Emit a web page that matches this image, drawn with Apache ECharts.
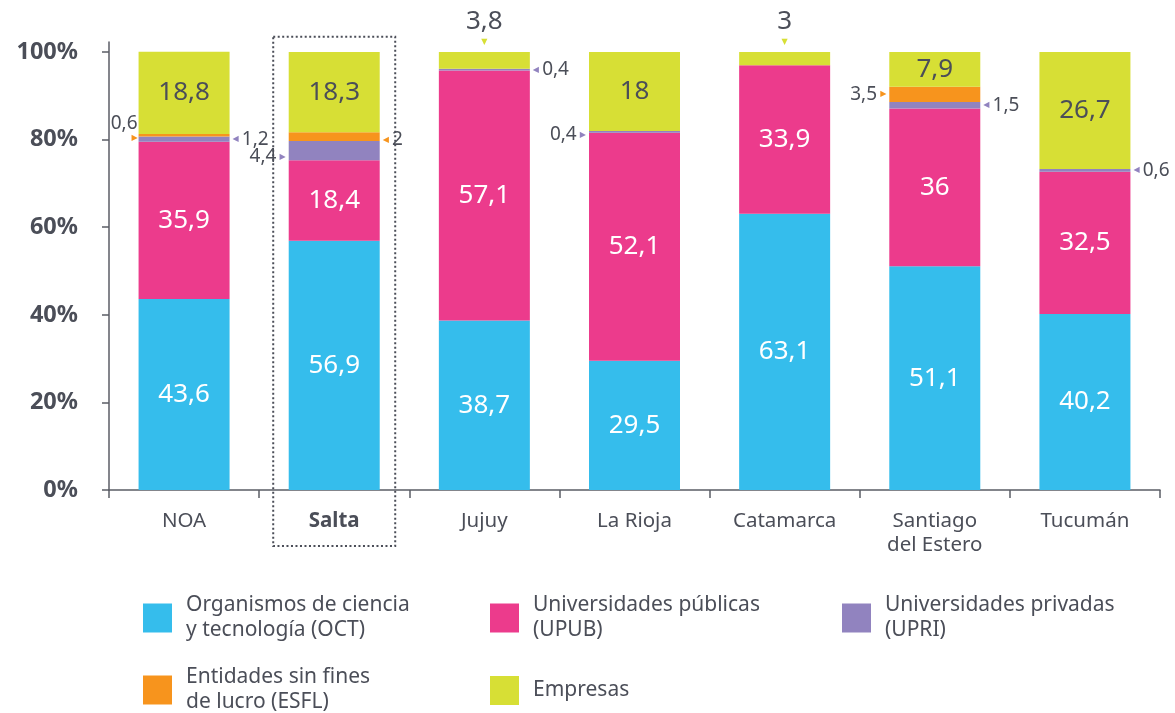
<!DOCTYPE html>
<html>
<head>
<meta charset="utf-8">
<script src="https://cdn.jsdelivr.net/npm/echarts@6/dist/echarts.min.js"></script>
<style>
html,body{margin:0;padding:0;background:#fff;}
#chart{width:1175px;height:713px;}
</style>
</head>
<body>
<div id="chart"></div>
<script>
// ---- data ----
const categories = ['NOA', 'Salta', 'Jujuy', 'La Rioja', 'Catamarca', 'Santiago\ndel Estero', 'Tucumán'];
const oct      = [43.6, 56.9, 38.7, 29.5, 63.1, 51.1, 40.2];
const upub     = [35.9, 18.4, 57.1, 52.1, 33.9, 36.0, 32.5];
const upri     = [1.2, 4.4, 0.4, 0.4, 0, 1.5, 0.6];
const esfl     = [0.6, 2.0, 0, 0, 0, 3.5, 0];
const empresas = [18.8, 18.3, 3.8, 18.0, 3.0, 7.9, 26.7];
const yTicks   = [0, 20, 40, 60, 80, 100];
const seriesNames = [
  'Organismos de ciencia\ny tecnología (OCT)',
  'Universidades públicas\n(UPUB)',
  'Universidades privadas\n(UPRI)',
  'Entidades sin fines\nde lucro (ESFL)',
  'Empresas'
];

// ---- styles ----
const colors = ['#35bdec', '#ec3b8c', '#9183bf', '#f7941d', '#d7df35'];
const textColor = '#4b4e58';
const axisColor = '#5b5d66';
const font = 'Noto Sans';

// placement of labels drawn outside the bar, per series index -> {categoryIndex: mode}
const outsidePlacement = {
  2: {0: 'right', 1: 'left', 2: 'right', 3: 'left', 5: 'right', 6: 'right'},
  3: {0: 'leftAbove', 1: 'right', 5: 'left'},
  4: {2: 'top', 4: 'top'}
};
const outsideOffset = {
  '2-1': [0, 6], '3-1': [0, 3], '2-3': [0, 3]
};

function fmt(v) { return String(v).replace('.', ','); }

function buildData(values, sIdx, insideColor) {
  return values.map((v, i) => {
    if (!v) return {value: v, label: {show: false}};
    const mode = (outsidePlacement[sIdx] || {})[i];
    const c = colors[sIdx];
    const rich = {
      v: {fontSize: 19, color: textColor, fontFamily: font},
      t: {fontSize: 8, color: c, fontFamily: 'DejaVu Sans'}
    };
    const off = outsideOffset[sIdx + '-' + i] || [0, 0];
    if (mode === 'right') {
      return {value: v, label: {show: true, position: 'right', distance: 3, offset: off,
        formatter: '{t|◀} {v|' + fmt(v) + '}', rich}};
    }
    if (mode === 'left') {
      return {value: v, label: {show: true, position: 'left', distance: 3, offset: off,
        formatter: '{v|' + fmt(v) + '} {t|▶}', rich}};
    }
    if (mode === 'leftAbove') {
      rich.v.lineHeight = 20; rich.t.lineHeight = 10;
      return {value: v, label: {show: true, position: 'left', distance: 1, offset: [0, -7],
        formatter: '{v|' + fmt(v) + '}\n{t|▶}', rich}};
    }
    if (mode === 'top') {
      rich.v.fontSize = 26; rich.v.lineHeight = 28; rich.t.lineHeight = 12;
      return {value: v, label: {show: true, position: 'top', distance: 4, align: 'center',
        formatter: '{v|' + fmt(v) + '}\n{t|▼}', rich}};
    }
    return {value: v, label: {show: true, position: 'inside', color: insideColor,
      fontSize: 26, fontFamily: font, formatter: fmt(v)}};
  });
}

const allValues = [oct, upub, upri, esfl, empresas];
const insideColors = ['#ffffff', '#ffffff', '#ffffff', '#ffffff', textColor];

const series = allValues.map((vals, s) => ({
  name: seriesNames[s],
  type: 'bar',
  stack: 'total',
  barWidth: 91,
  itemStyle: {color: colors[s]},
  emphasis: {disabled: true},
  data: buildData(vals, s, insideColors[s])
}));

const legendPos = [
  {left: 143, top: 593},
  {left: 490, top: 593},
  {left: 842, top: 593},
  {left: 143, top: 665},
  {left: 490, top: 676}
];

const legends = seriesNames.map((n, i) => ({
  data: [n],
  left: legendPos[i].left,
  top: legendPos[i].top,
  padding: 0,
  icon: 'rect',
  itemWidth: 29,
  itemHeight: 29,
  selectedMode: false,
  textStyle: {fontSize: 21, lineHeight: 25, color: textColor, fontFamily: font, padding: [0, 0, 0, 9]}
}));

const chart = echarts.init(document.getElementById('chart'), null, {renderer: 'canvas'});
chart.setOption({
  animation: false,
  textStyle: {fontFamily: font},
  grid: {left: 109, right: 15, top: 42, bottom: 223, containLabel: false},
  legend: legends,
  xAxis: {
    type: 'category',
    data: categories,
    axisLine: {lineStyle: {color: axisColor, width: 1.5}},
    axisTick: {show: true, length: 8, lineStyle: {color: axisColor, width: 1.5}},
    axisLabel: {
      fontSize: 20.5, lineHeight: 24, color: textColor, fontFamily: font, margin: 19,
      formatter: v => v === 'Salta' ? '{b|Salta}' : v,
      rich: {b: {fontSize: 20.5, fontWeight: 'bold', color: textColor, fontFamily: font}}
    }
  },
  yAxis: {
    type: 'value',
    min: 0,
    max: 102.3,
    axisLine: {show: true, lineStyle: {color: axisColor, width: 1.5}},
    axisTick: {show: true, length: 7, customValues: yTicks, lineStyle: {color: axisColor, width: 1.5}},
    axisLabel: {customValues: yTicks, formatter: '{value}%', fontSize: 23.5, fontWeight: 'bold',
      color: textColor, fontFamily: font, margin: 31},
    splitLine: {show: false}
  },
  series: series
});

// dotted highlight box around the "Salta" column, placed via the axes
const cx = chart.convertToPixel({xAxisIndex: 0}, 'Salta');
const yTop = chart.convertToPixel({yAxisIndex: 0}, 103.5);
const yZero = chart.convertToPixel({yAxisIndex: 0}, 0);
chart.setOption({
  graphic: [{
    type: 'rect',
    shape: {x: cx - 61, y: yTop, width: 122, height: yZero + 56 - yTop},
    style: {fill: null, stroke: '#4b4e58', lineWidth: 2, lineDash: [2, 2.5]},
    silent: true,
    z: 0
  }]
});
</script>
</body>
</html>
